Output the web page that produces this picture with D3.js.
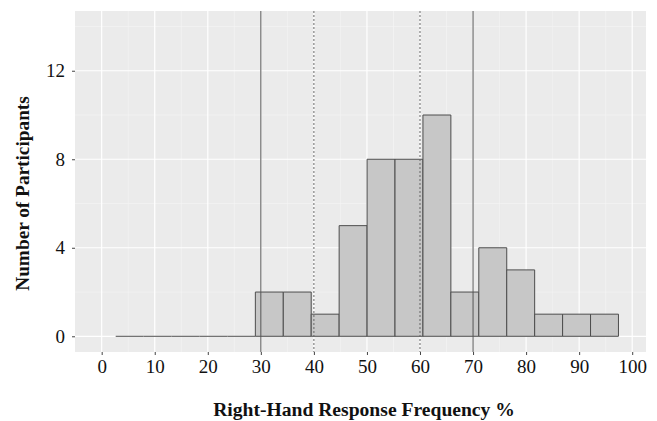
<!DOCTYPE html>
<html>
<head>
<meta charset="utf-8">
<script src="https://cdn.jsdelivr.net/npm/d3@7"></script>
<style>
  html, body { margin: 0; padding: 0; background: #fff; }
  svg { display: block; }
</style>
</head>
<body>
<svg id="chart" width="657" height="421"></svg>
<script>
// ---- data ----
const binStart = 2.64;
const binWidth = 5.265;
const binCounts = [0, 0, 0, 0, 0, 2, 2, 1, 5, 8, 8, 10, 2, 4, 3, 1, 1, 1];
const xTicks = [0, 10, 20, 30, 40, 50, 60, 70, 80, 90, 100];
const yTicks = [0, 4, 8, 12];
const solidLines = [30, 70];
const dottedLines = [40, 60];
const xTitle = "Right-Hand Response Frequency %";
const yTitle = "Number of Participants";

// ---- layout ----
const svg = d3.select("#chart");
const panel = { left: 75, right: 646, top: 11, bottom: 352 };
const x = d3.scaleLinear().domain([-5.03, 102.6]).range([panel.left, panel.right]);
const y = d3.scaleLinear().domain([-0.71, 14.7]).range([panel.bottom, panel.top]);
const serif = "'Liberation Serif', 'Times New Roman', serif";

const bins = binCounts.map((c, i) => ({ x0: binStart + i * binWidth, x1: binStart + (i + 1) * binWidth, n: c }));

// panel background
svg.append("rect")
  .attr("x", panel.left).attr("y", panel.top)
  .attr("width", panel.right - panel.left).attr("height", panel.bottom - panel.top)
  .attr("fill", "#EBEBEB");

// minor grid
const xMinor = xTicks.slice(0, -1).map(t => t + 5);
const yMinor = [2, 6, 10, 14];
const g = svg.append("g");
g.selectAll(".xminor").data(xMinor).join("line")
  .attr("x1", d => x(d)).attr("x2", d => x(d))
  .attr("y1", panel.top).attr("y2", panel.bottom)
  .attr("stroke", "#F5F5F5").attr("stroke-width", 0.6);
g.selectAll(".yminor").data(yMinor).join("line")
  .attr("y1", d => y(d)).attr("y2", d => y(d))
  .attr("x1", panel.left).attr("x2", panel.right)
  .attr("stroke", "#F5F5F5").attr("stroke-width", 0.6);
// major grid
g.selectAll(".xmajor").data(xTicks).join("line")
  .attr("x1", d => x(d)).attr("x2", d => x(d))
  .attr("y1", panel.top).attr("y2", panel.bottom)
  .attr("stroke", "#FFFFFF").attr("stroke-width", 1.2);
g.selectAll(".ymajor").data(yTicks).join("line")
  .attr("y1", d => y(d)).attr("y2", d => y(d))
  .attr("x1", panel.left).attr("x2", panel.right)
  .attr("stroke", "#FFFFFF").attr("stroke-width", 1.2);

// bars (zero-count bins draw as a flat outline on the baseline)
svg.append("g").selectAll("path").data(bins).join("path")
  .attr("d", d => {
    const x0 = x(d.x0), x1 = x(d.x1), y0 = y(0), y1 = y(d.n);
    return d.n > 0 ? `M${x0},${y0}V${y1}H${x1}V${y0}Z` : `M${x0},${y0}H${x1}`;
  })
  .attr("fill", "#C7C7C7")
  .attr("stroke", "#4D4D4D")
  .attr("stroke-width", 1);

// vertical reference lines
svg.append("g").selectAll("line").data(solidLines).join("line")
  .attr("x1", d => x(d)).attr("x2", d => x(d))
  .attr("y1", panel.top).attr("y2", panel.bottom)
  .attr("stroke", "#555").attr("stroke-width", 1);
svg.append("g").selectAll("line").data(dottedLines).join("line")
  .attr("x1", d => x(d)).attr("x2", d => x(d))
  .attr("y1", panel.top).attr("y2", panel.bottom)
  .attr("stroke", "#666").attr("stroke-width", 1)
  .attr("stroke-dasharray", "2,2");

// axes
const xAxis = d3.axisBottom(x).tickValues(xTicks).tickSize(3).tickPadding(5);
const yAxis = d3.axisLeft(y).tickValues(yTicks).tickSize(3).tickPadding(7);

const gx = svg.append("g").attr("transform", `translate(0,${panel.bottom})`).call(xAxis);
const gy = svg.append("g").attr("transform", `translate(${panel.left},0)`).call(yAxis);
[gx, gy].forEach(a => {
  a.select(".domain").remove();
  a.selectAll(".tick line").attr("stroke", "#444").attr("stroke-width", 1);
  a.selectAll(".tick text")
    .attr("fill", "#111")
    .style("font-family", serif)
    .style("font-size", "19px");
});

// titles
svg.append("text")
  .attr("x", 364)
  .attr("y", 416)
  .attr("text-anchor", "middle")
  .style("font-family", serif)
  .style("font-size", "19.6px")
  .style("font-weight", "bold")
  .attr("fill", "#111")
  .text(xTitle);

svg.append("text")
  .attr("transform", `translate(29,193.5) rotate(-90)`)
  .attr("text-anchor", "middle")
  .style("font-family", serif)
  .style("font-size", "19.3px")
  .style("font-weight", "bold")
  .attr("fill", "#111")
  .text(yTitle);
</script>
</body>
</html>
